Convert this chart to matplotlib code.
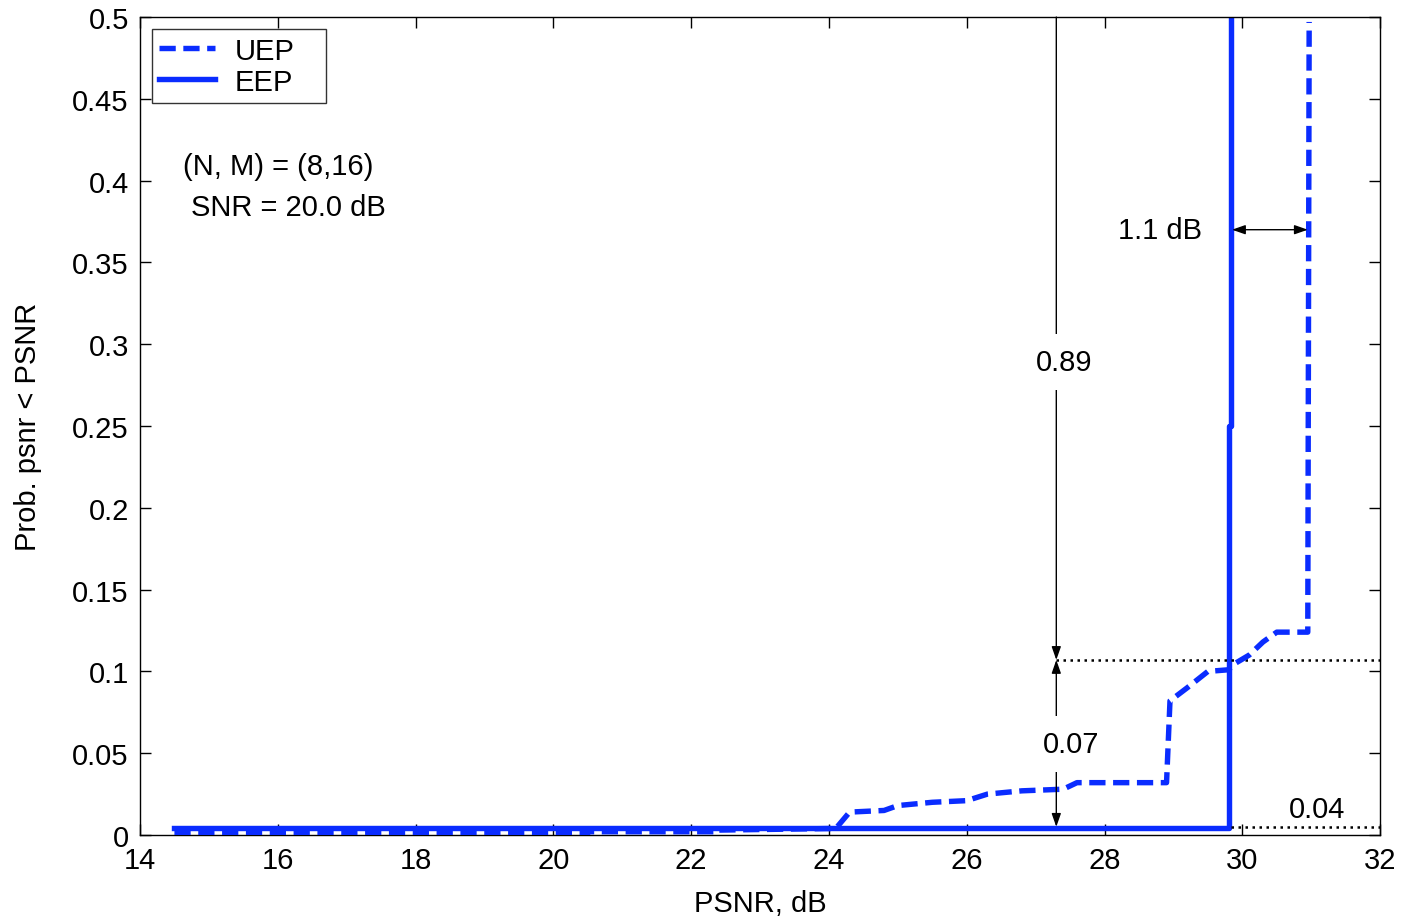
import matplotlib
matplotlib.use("Agg")
import matplotlib.pyplot as plt

plt.rcParams['font.family'] = ['Liberation Sans', 'DejaVu Sans']

# ---- data ----
eep_x = [14.5, 29.80, 29.80, 29.83, 29.83]
eep_y = [0.004, 0.004, 0.25, 0.25, 0.6]

uep_x = [14.5, 20.5, 20.5, 22.4, 22.4, 24.1, 24.3, 24.8, 25.0, 25.5, 26.0,
         26.3, 26.8, 27.4, 27.6, 28.9, 28.95, 29.2, 29.5, 29.8, 29.9, 30.1,
         30.3, 30.5, 30.95, 30.97]
uep_y = [0.001, 0.001, 0.002, 0.002, 0.003, 0.004, 0.014, 0.015, 0.018, 0.020,
         0.021, 0.025, 0.027, 0.028, 0.032, 0.032, 0.082, 0.090, 0.100, 0.101,
         0.105, 0.110, 0.118, 0.124, 0.124, 0.497]

x_ticks = [14, 16, 18, 20, 22, 24, 26, 28, 30, 32]
y_ticks = [0, 0.05, 0.1, 0.15, 0.2, 0.25, 0.3, 0.35, 0.4, 0.45, 0.5]
y_tick_labels = ['0', '0.05', '0.1', '0.15', '0.2', '0.25', '0.3', '0.35', '0.4', '0.45', '0.5']

gap_x = 27.3
level_hi = 0.107
level_lo = 0.005
shift_y = 0.37
shift_x0, shift_x1 = 29.85, 30.95

blue = '#0a2cff'
FS = 21

fig = plt.figure(figsize=(14.01, 9.2), dpi=100)
ax = fig.add_axes([0.0999, 0.0913, 0.8852, 0.8891])

ax.plot(uep_x, uep_y, color=blue, lw=3.9, linestyle=(0, (3.0, 1.4)),
        label='UEP', zorder=3)
ax.plot(eep_x, eep_y, color=blue, lw=3.9, linestyle='-', label='EEP', zorder=2)

ax.set_xlim(14, 32)
ax.set_ylim(0, 0.5)
ax.set_xticks(x_ticks)
ax.set_yticks(y_ticks)
ax.set_yticklabels(y_tick_labels)
ax.tick_params(direction='in', top=True, right=True, length=8, width=1,
               labelsize=FS, pad=8)
for s in ax.spines.values():
    s.set_linewidth(1.0)

ax.set_xlabel('PSNR, dB', fontsize=FS, labelpad=11)
ax.set_ylabel('Prob. psnr < PSNR', fontsize=FS, labelpad=22)

leg = ax.legend(loc='upper left', fontsize=FS, frameon=True, fancybox=False,
                edgecolor='black', bbox_to_anchor=(0.0097, 0.0, 0.1403, 0.985),
                mode='expand', borderaxespad=0.0, handlelength=1.9,
                handletextpad=0.7, borderpad=0.25, labelspacing=0.1)
leg.get_frame().set_linewidth(1.0)

ax.text(16.0, 0.409, '(N, M) = (8,16)', fontsize=FS, ha='center', va='center')
ax.text(16.15, 0.384, 'SNR = 20.0 dB', fontsize=FS, ha='center', va='center')

# dotted reference lines
ax.plot([gap_x, 32], [level_hi, level_hi], color='black', lw=1.8, linestyle=(0, (1, 1.8)))
ax.plot([29.83, 32], [level_lo, level_lo], color='black', lw=1.8, linestyle=(0, (1, 1.8)))

arrow_kw = dict(arrowstyle='-|>,head_length=0.8,head_width=0.28', color='black',
                lw=1.0, shrinkA=0, shrinkB=0)
dbl_kw = dict(arrowstyle='<|-|>,head_length=0.8,head_width=0.28', color='black',
              lw=1.0, shrinkA=0, shrinkB=0)

# 0.89 arrow
ax.annotate('', xy=(gap_x, level_hi), xytext=(gap_x, 0.5), arrowprops=arrow_kw)
ax.text(gap_x + 0.12, 0.289, '0.89', fontsize=FS, ha='center', va='center',
        bbox=dict(facecolor='white', edgecolor='none', pad=10))
# 0.07 arrow
ax.annotate('', xy=(gap_x, level_hi), xytext=(gap_x, level_lo), arrowprops=dbl_kw)
ax.text(gap_x + 0.22, 0.0555, '0.07', fontsize=FS, ha='center', va='center',
        bbox=dict(facecolor='white', edgecolor='none', pad=10))
# 0.04 label
ax.text(31.08, 0.016, '0.04', fontsize=FS, ha='center', va='center')
# 1.1 dB arrow
ax.annotate('', xy=(shift_x0, shift_y), xytext=(shift_x1, shift_y), arrowprops=dbl_kw)
ax.text(29.42, shift_y, '1.1 dB', fontsize=FS, ha='right', va='center')

fig.savefig('out.png', dpi=100)
